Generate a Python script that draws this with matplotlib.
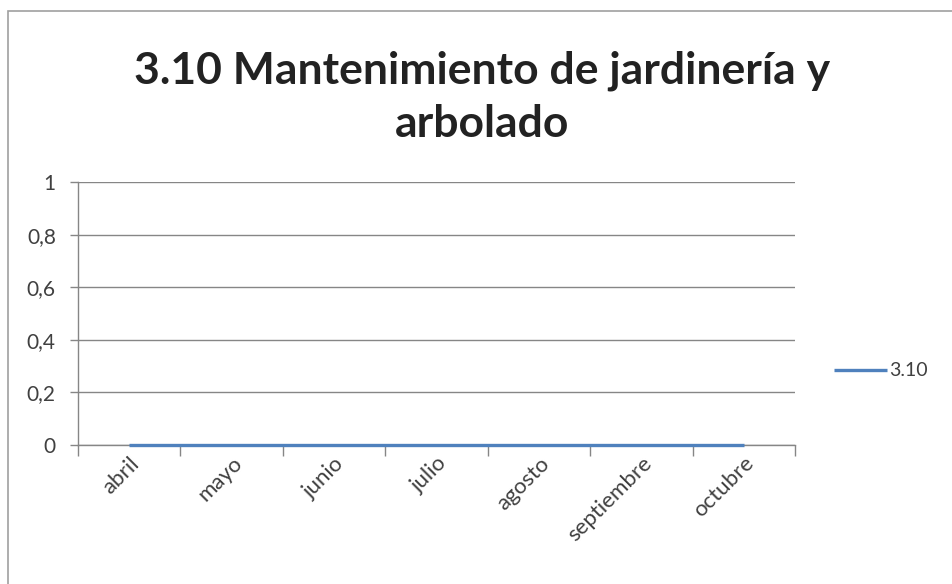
import matplotlib
matplotlib.use("Agg")
import matplotlib.pyplot as plt
import matplotlib.patches as mpatches
from matplotlib.ticker import FuncFormatter

plt.rcParams["font.family"] = ["Lato", "DejaVu Sans"]

# datos
meses = ["abril", "mayo", "junio", "julio", "agosto", "septiembre", "octubre"]
valores = [0, 0, 0, 0, 0, 0, 0]
serie = "3.10"
titulo = "3.10 Mantenimiento de jardinería y\narbolado"

fig = plt.figure(figsize=(9.53, 5.84), dpi=100)
fig.patch.set_facecolor("white")

# marco exterior del gráfico
marco = mpatches.Rectangle((8 / 953, -0.02), 1.0, 1 - 11 / 584 + 0.02,
                           transform=fig.transFigure, fill=False,
                           edgecolor="#a0a0a0", linewidth=1.2)
fig.patches.append(marco)

ax = fig.add_axes([78 / 953, 1 - 445 / 584, (795 - 78) / 953, (445 - 182) / 584])

x = list(range(len(meses)))
ax.plot(x, valores, color="#4F81BD", linewidth=2.4, label=serie,
        solid_capstyle="butt", zorder=5, clip_on=False)

ax.set_xlim(-0.5, len(meses) - 0.5)
ax.set_ylim(0, 1)
ax.set_yticks([0, 0.2, 0.4, 0.6, 0.8, 1])
ax.yaxis.set_major_formatter(FuncFormatter(lambda v, p: f"{v:g}".replace(".", ",")))

# ticks de categoría en los límites
ax.set_xticks([i - 0.5 for i in range(len(meses) + 1)])
ax.set_xticklabels([])
ax.set_xticks(x, minor=True)
ax.set_xticklabels(meses, minor=True, rotation=45, ha="right",
                   rotation_mode="anchor", fontsize=16, color="#404040")
ax.tick_params(axis="x", which="major", length=8, color="#868686", width=1)
ax.tick_params(axis="x", which="minor", length=0, pad=6)
ax.tick_params(axis="y", length=6, color="#868686", width=1,
               labelsize=15, labelcolor="#404040", pad=10)

ax.grid(axis="y", color="#868686", linewidth=1)
ax.set_axisbelow(True)
for s in ["top", "right"]:
    ax.spines[s].set_visible(False)
for s in ["left", "bottom"]:
    ax.spines[s].set_color("#868686")
    ax.spines[s].set_linewidth(1)

fig.text(482 / 953, 1 - 97 / 584, titulo, ha="center", va="center",
         fontsize=32, fontweight="bold", color="#222222", linespacing=1.4)

ax.legend(loc="center left", bbox_to_anchor=(817 / 953, 1 - 371 / 584),
          bbox_transform=fig.transFigure, frameon=False, fontsize=14,
          handlelength=2.7, handletextpad=0.1, labelcolor="#404040")

fig.savefig("out.png", dpi=100, facecolor="white")
